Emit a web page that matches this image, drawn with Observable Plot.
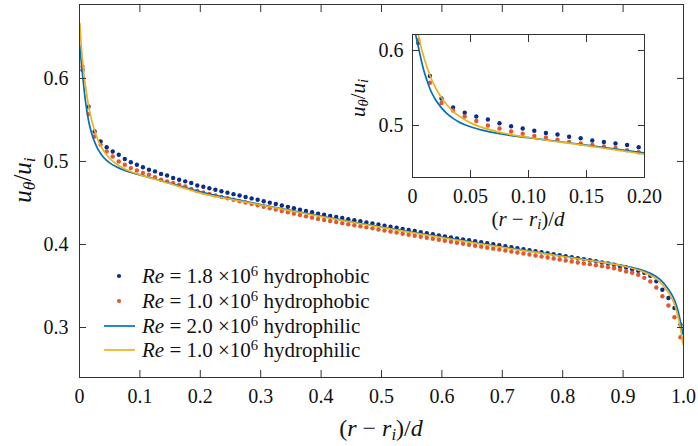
<!DOCTYPE html>
<html><head><meta charset="utf-8">
<script src="https://cdn.jsdelivr.net/npm/d3@7"></script>
<script src="https://cdn.jsdelivr.net/npm/@observablehq/plot@0.6"></script>
<style>
body{margin:0;background:#fff;}
#wrap{position:relative;width:698px;height:446px;overflow:hidden;font-family:"Times New Roman",Times,"Liberation Serif","DejaVu Serif",serif;color:#111;}
#wrap > svg{position:absolute;}
.lbl{position:absolute;white-space:nowrap;line-height:1;}
.lbl i{font-style:italic;}
sub{font-size:70%;vertical-align:-0.25em;line-height:0;}
sup{font-size:70%;vertical-align:0.5em;line-height:0;}
.leg{position:absolute;left:100px;font-size:21px;line-height:22px;height:22px;white-space:nowrap;display:flex;align-items:center;}
.leg svg{width:40px;height:22px;flex:none;}
</style></head>
<body>
<div id="wrap"></div>
<script>
// ---- data ----
const dotX = [0.005,0.015,0.025,0.035,0.045,0.055,0.065,0.075,0.085,0.095,
0.105,0.115,0.125,0.135,0.145,0.155,0.165,0.175,0.185,0.195,
0.205,0.215,0.225,0.235,0.245,0.255,0.265,0.275,0.285,0.295,
0.305,0.315,0.325,0.335,0.345,0.355,0.365,0.375,0.385,0.395,
0.405,0.415,0.425,0.435,0.445,0.455,0.465,0.475,0.485,0.495,
0.505,0.515,0.525,0.535,0.545,0.555,0.565,0.575,0.585,0.595,
0.605,0.615,0.625,0.635,0.645,0.655,0.665,0.675,0.685,0.695,
0.705,0.715,0.725,0.735,0.745,0.755,0.765,0.775,0.785,0.795,
0.805,0.815,0.825,0.835,0.845,0.855,0.865,0.875,0.885,0.895,
0.905,0.915,0.925,0.935,0.945,0.955,0.965,0.975,0.985,0.995];
const phobic18 = [0.610,0.566,0.536,0.524,0.517,0.512,0.508,0.503,0.499,0.496,
0.493,0.490,0.488,0.485,0.483,0.480,0.478,0.476,0.474,0.471,
0.4695,0.4677,0.4659,0.4641,0.4624,0.4606,0.4589,0.4572,0.4555,0.4538,
0.4521,0.4504,0.4487,0.4470,0.4453,0.4437,0.4420,0.4404,0.4388,0.4372,
0.4358,0.4344,0.4331,0.4318,0.4305,0.4292,0.4279,0.4266,0.4253,0.4240,
0.4227,0.4214,0.4201,0.4188,0.4175,0.4162,0.4149,0.4136,0.4123,0.4110,
0.4098,0.4086,0.4074,0.4062,0.4050,0.4038,0.4026,0.4014,0.4002,0.3990,
0.3978,0.3966,0.3954,0.3942,0.3930,0.3918,0.3906,0.3894,0.3882,0.3871,
0.3859,0.3847,0.3835,0.3823,0.3811,0.3799,0.3783,0.3771,0.3755,0.3739,
0.3723,0.3702,0.3683,0.3659,0.3623,0.3556,0.3454,0.3355,0.3235,0.3034];
const phobic10 = [0.614,0.557,0.530,0.520,0.512,0.506,0.500,0.496,0.492,0.489,
0.486,0.484,0.481,0.478,0.476,0.474,0.472,0.470,0.467,0.4644,
0.4626,0.4608,0.4591,0.4573,0.4556,0.4539,0.4522,0.4505,0.4488,0.4471,
0.4454,0.4437,0.4420,0.4403,0.4387,0.4371,0.4355,0.4339,0.4323,0.4308,
0.4295,0.4282,0.4270,0.4257,0.4244,0.4232,0.4219,0.4206,0.4194,0.4181,
0.4168,0.4156,0.4143,0.4130,0.4118,0.4105,0.4093,0.4081,0.4069,0.4057,
0.4045,0.4033,0.4021,0.4009,0.3997,0.3985,0.3974,0.3962,0.3950,0.3938,
0.3926,0.3914,0.3902,0.3890,0.3878,0.3866,0.3854,0.3843,0.3831,0.3819,
0.3807,0.3795,0.3783,0.3771,0.3763,0.3751,0.3739,0.3727,0.3714,0.3695,
0.3675,0.3659,0.3635,0.3598,0.3554,0.3482,0.3377,0.3265,0.3124,0.2883];
const philic20X = [0.0005,0.002,0.004,0.006,0.008,0.01,0.0125,0.015,0.02,0.025,0.03,0.035,0.04,0.05,0.06,0.075,0.1,0.125,0.15,0.175,0.2,0.25,0.3,0.35,0.4,0.45,0.5,0.55,0.6,0.65,0.7,0.75,0.8,0.85,0.9,0.93,0.95,0.96,0.97,0.98,0.985,0.99,0.995,0.999];
const philic20Y = [0.640,0.627,0.612,0.598,0.584,0.572,0.560,0.549,0.534,0.5235,0.5155,0.5095,0.5048,0.4983,0.4938,0.4890,0.4838,0.4788,0.4738,0.4686,0.4635,0.4555,0.448,0.441,0.4342,0.4275,0.421,0.4148,0.4088,0.4028,0.397,0.3915,0.386,0.3805,0.3745,0.3695,0.3635,0.3585,0.351,0.3405,0.333,0.3225,0.307,0.292];
const philic10X = [0.0008,0.002,0.004,0.006,0.008,0.01,0.0125,0.015,0.02,0.025,0.03,0.035,0.04,0.05,0.06,0.075,0.1,0.125,0.15,0.175,0.2,0.25,0.3,0.35,0.4,0.45,0.5,0.55,0.6,0.65,0.7,0.75,0.8,0.85,0.9,0.93,0.95,0.96,0.97,0.98,0.985,0.99,0.995,0.999];
const philic10Y = [0.666,0.649,0.630,0.614,0.601,0.590,0.578,0.567,0.550,0.537,0.527,0.519,0.5128,0.5035,0.4975,0.4910,0.4840,0.4785,0.4732,0.4675,0.4618,0.4545,0.4475,0.4405,0.4335,0.427,0.4205,0.4143,0.4082,0.4022,0.3965,0.391,0.3855,0.38,0.374,0.368,0.361,0.3555,0.347,0.336,0.328,0.316,0.299,0.280];

const xTicks = [0,0.1,0.2,0.3,0.4,0.5,0.6,0.7,0.8,0.9,1.0];
const xTickLabels = ["0","0.1","0.2","0.3","0.4","0.5","0.6","0.7","0.8","0.9","1.0"];
const yTicks = [0.3,0.4,0.5,0.6];
const yTickLabels = ["0.3","0.4","0.5","0.6"];
const insetXTicks = [0,0.05,0.1,0.15,0.2];
const insetXTickLabels = ["0","0.05","0.10","0.15","0.20"];
const insetYTicks = [0.5,0.6];
const insetYTickLabels = ["0.5","0.6"];

const seriesNames = ["Re = 1.8 ×10^6 hydrophobic","Re = 1.0 ×10^6 hydrophobic","Re = 2.0 ×10^6 hydrophilic","Re = 1.0 ×10^6 hydrophilic"];
const colors = {p18:"#0a2d8c", p10:"#e4572a", l20:"#0072bd", l10:"#edb120"};

// ---- tables ----
const dotsA = dotX.map((x,i)=>({x, y: phobic18[i]}));
const dotsB = dotX.map((x,i)=>({x, y: phobic10[i]}));
const lineA = philic20X.map((x,i)=>({x, y: philic20Y[i]}));
const lineB = philic10X.map((x,i)=>({x, y: philic10Y[i]}));

const FONT = "'Times New Roman',Times,'Liberation Serif','DejaVu Serif',serif";
const fmt = (ticks, labels) => d => { const i = ticks.indexOf(d); return i >= 0 ? labels[i] : ""; };
const axisStroke = "#333";

function axes(xt, xl, yt, yl, pad) {
  return [
    Plot.axisX(xt, {anchor:"bottom", tickSize:-7, tickPadding:pad.x, tickFormat: fmt(xt, xl), label:null, stroke:axisStroke}),
    Plot.axisX(xt, {anchor:"top", tickSize:-7, tickFormat: () => "", label:null, stroke:axisStroke}),
    Plot.axisY(yt, {anchor:"left", tickSize:-7, tickPadding:pad.y, tickFormat: fmt(yt, yl), label:null, stroke:axisStroke}),
    Plot.axisY(yt, {anchor:"right", tickSize:-7, tickFormat: () => "", label:null, stroke:axisStroke}),
    Plot.frame({stroke: axisStroke, strokeWidth: 1})
  ];
}

const dotR = 2.2, lw = 1.7;
function dataMarks(clip, filterMax) {
  const f = a => filterMax ? a.filter(d => d.x <= filterMax) : a;
  return [
    Plot.dot(f(dotsA), {x:"x", y:"y", r:dotR, fill:colors.p18, clip}),
    Plot.dot(f(dotsB), {x:"x", y:"y", r:dotR, fill:colors.p10, clip}),
    Plot.line(f(lineA), {x:"x", y:"y", stroke:colors.l20, strokeWidth:lw, curve:"monotone-x", clip}),
    Plot.line(f(lineB), {x:"x", y:"y", stroke:colors.l10, strokeWidth:lw, curve:"monotone-x", clip})
  ];
}

const main = Plot.plot({
  width: 698, height: 446,
  marginLeft: 79, marginRight: 15, marginTop: 4, marginBottom: 69,
  x: {domain: [0, 1]},
  y: {domain: [0.2398, 0.689]},
  style: {fontFamily: FONT, fontSize: "20px", color: "#111", background: "transparent", overflow: "visible"},
  marks: [
    ...dataMarks(false, null),
    ...axes(xTicks, xTickLabels, yTicks, yTickLabels, {x: 18, y: 18})
  ]
});
main.style.left = "0px"; main.style.top = "0px";

const inset = Plot.plot({
  width: 320, height: 220,
  marginLeft: 72, marginRight: 16, marginTop: 14, marginBottom: 63,
  x: {domain: [0, 0.2]},
  y: {domain: [0.4307, 0.6213]},
  style: {fontFamily: FONT, fontSize: "20px", color: "#111", background: "transparent", overflow: "visible"},
  marks: [
    ...dataMarks(true, 0.22),
    ...axes(insetXTicks, insetXTickLabels, insetYTicks, insetYTickLabels, {x: 18, y: 16})
  ]
});
inset.style.left = "340px"; inset.style.top = "20px";

const wrap = document.getElementById("wrap");
wrap.appendChild(main);
wrap.appendChild(inset);

function addLabel(html, cx, cy, size, rotate) {
  const d = document.createElement("div");
  d.className = "lbl";
  d.innerHTML = html;
  d.style.fontSize = size + "px";
  d.style.left = cx + "px"; d.style.top = cy + "px";
  d.style.transform = "translate(-50%,-50%)" + (rotate ? " rotate(-90deg)" : "");
  wrap.appendChild(d);
}
const xLabelHTML = "(<i>r</i> − <i>r<sub>i</sub></i>)/<i>d</i>";
const yLabelHTML = "<i>u<sub>θ</sub></i>/<i>u<sub>i</sub></i>";
addLabel(xLabelHTML, 381, 428, 24, false);
addLabel(yLabelHTML, 22, 180, 25, true);
addLabel(xLabelHTML, 528, 219, 21, false);
addLabel(yLabelHTML, 358, 98, 21, true);

// legend
const legRows = [
  {name: seriesNames[0], kind:"dot", color: colors.p18, y: 276},
  {name: seriesNames[1], kind:"dot", color: colors.p10, y: 301},
  {name: seriesNames[2], kind:"line", color: colors.l20, y: 326},
  {name: seriesNames[3], kind:"line", color: colors.l10, y: 350}
];
legRows.forEach(r => {
  const row = document.createElement("div");
  row.className = "leg";
  row.style.top = (r.y - 11) + "px";
  const m = r.kind === "dot"
    ? `<svg viewBox="0 0 40 22"><circle cx="19" cy="11" r="2.1" fill="${r.color}"/></svg>`
    : `<svg viewBox="0 0 40 22"><line x1="4" x2="35" y1="11" y2="11" stroke="${r.color}" stroke-width="1.7"/></svg>`;
  const parts = r.name.match(/^Re = (\S+) ×10\^(\d) (.*)$/);
  row.innerHTML = m + `<span style="margin-left:2px"><i>Re</i> = ${parts[1]} ×10<sup>${parts[2]}</sup> ${parts[3]}</span>`;
  wrap.appendChild(row);
});
</script>
</body></html>
